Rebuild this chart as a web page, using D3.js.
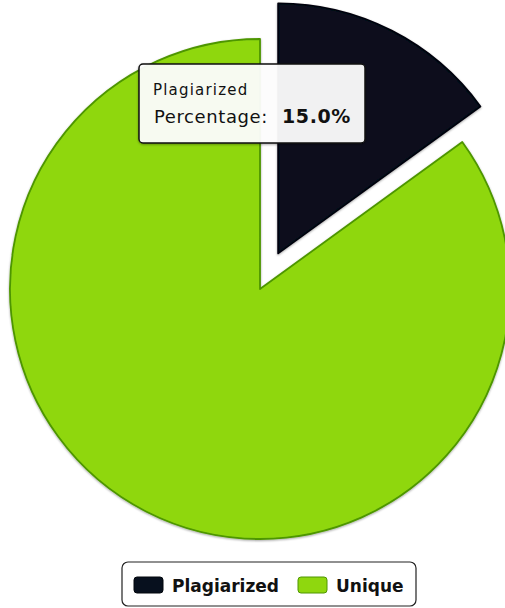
<!DOCTYPE html>
<html>
<head>
<meta charset="utf-8">
<script src="https://cdn.jsdelivr.net/npm/d3@7"></script>
<style>
  body { margin: 0; background: #fff; }
  svg { display: block; font-family: "DejaVu Sans", sans-serif; }
</style>
</head>
<body>
<div id="chart"></div>
<script>
// Data
const categories = ["Plagiarized", "Unique"],
  values = [15, 85],
  colors = ["#07101e", "#8fd70e"],
  strokes = ["#02060c", "#4e9600"];

const width = 505,
  height = 608,
  cx = 260,
  cy = 289,
  radius = 250,
  explode = 40;

var svg = d3.select("#chart").append("svg")
  .attr("width", width)
  .attr("height", height);

var defs = svg.append("defs");
var shadow = defs.append("filter").attr("id", "shadow")
  .attr("x", "-10%").attr("y", "-10%").attr("width", "120%").attr("height", "120%");
shadow.append("feDropShadow")
  .attr("dx", 0).attr("dy", 1).attr("stdDeviation", 1.2)
  .attr("flood-color", "#000").attr("flood-opacity", 0.35);

var pie = d3.pie().sort(null).value(d => d);
var arc = d3.arc().innerRadius(0).outerRadius(radius);
var arcs = pie(values);

var g = svg.append("g").attr("transform", "translate(" + cx + "," + cy + ")");

g.selectAll("path.slice")
  .data(arcs)
  .enter()
  .append("path")
    .attr("class", "slice")
    .attr("d", arc)
    .attr("fill", (d, i) => colors[i])
    .attr("stroke", (d, i) => strokes[i])
    .attr("stroke-width", 1.8)
    .attr("stroke-linejoin", "round")
    .attr("filter", "url(#shadow)")
    .attr("transform", (d, i) => {
      if (i !== 0) return null;
      var mid = (d.startAngle + d.endAngle) / 2;
      return "translate(" + (Math.sin(mid) * explode) + "," + (-Math.cos(mid) * explode) + ")";
    });

// Tooltip for the exploded slice
var pct = values[0] / d3.sum(values) * 100;
var tip = svg.append("g").attr("transform", "translate(139,64)");
tip.append("rect")
  .attr("width", 226)
  .attr("height", 79)
  .attr("rx", 4)
  .attr("fill", "#fff")
  .attr("fill-opacity", 0.93)
  .attr("stroke", "#111")
  .attr("stroke-width", 1.5)
  .attr("filter", "url(#shadow)");
tip.append("text")
  .attr("x", 14)
  .attr("y", 31)
  .attr("font-size", 15)
  .attr("letter-spacing", 1.2)
  .attr("fill", "#111")
  .text(categories[0]);
var line2 = tip.append("text")
  .attr("y", 59)
  .attr("font-size", 18)
  .attr("fill", "#111");
line2.append("tspan").attr("x", 15).attr("letter-spacing", 0.6).text("Percentage:");
line2.append("tspan").attr("x", 143)
  .attr("font-weight", "bold")
  .attr("font-size", 19)
  .attr("letter-spacing", 0.6)
  .text(d3.format(".1f")(pct) + "%");

// Legend
var legend = svg.append("g").attr("transform", "translate(122,562)");
legend.append("rect")
  .attr("width", 294)
  .attr("height", 44)
  .attr("rx", 6)
  .attr("fill", "#fff")
  .attr("stroke", "#222")
  .attr("stroke-width", 1.2);

var itemX = [12, 176];
var items = legend.selectAll("g.item")
  .data(categories)
  .enter()
  .append("g")
    .attr("class", "item")
    .attr("transform", (d, i) => "translate(" + itemX[i] + ",15)");
items.append("rect")
  .attr("width", 29)
  .attr("height", 16)
  .attr("rx", 3)
  .attr("fill", (d, i) => colors[i])
  .attr("stroke", (d, i) => strokes[i])
  .attr("stroke-width", 1);
items.append("text")
  .attr("x", 38)
  .attr("y", 15)
  .attr("font-size", 17)
  .attr("font-weight", "bold")
  .attr("fill", "#111")
  .text(d => d);
</script>
</body>
</html>
